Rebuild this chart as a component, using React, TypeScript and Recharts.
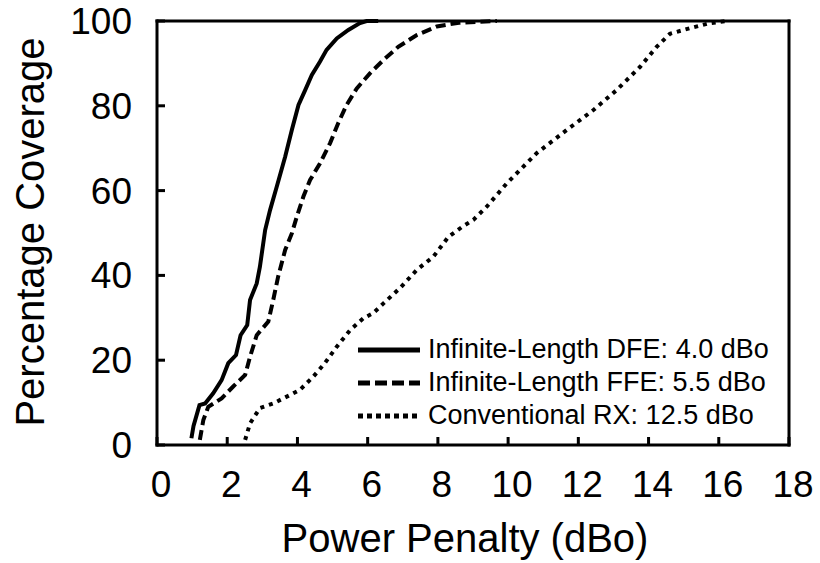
import React from 'react';
import { LineChart, Line, XAxis, YAxis } from 'recharts';

const xTicks = [0, 2, 4, 6, 8, 10, 12, 14, 16, 18];
const yTicks = [0, 20, 40, 60, 80, 100];

const dfeX = [0.98, 1.04, 1.21, 1.37, 1.6, 1.84, 2.03, 2.25, 2.38, 2.57, 2.65, 2.84, 2.93, 3.08, 3.22, 3.41, 3.65, 3.84, 4.03, 4.22, 4.41, 4.64, 4.83, 5.12, 5.45, 5.78, 5.97, 6.3];
const dfeY = [1.6, 4.5, 9.4, 9.8, 12.2, 15.3, 19.3, 21.2, 25.9, 28.3, 34.2, 38.1, 42, 50.7, 55.4, 60.9, 68, 74.3, 80.2, 83.7, 87.3, 90.4, 93.2, 95.9, 97.9, 99.5, 100, 100];

const ffeX = [1.22, 1.32, 1.46, 1.84, 2.17, 2.51, 2.65, 2.84, 3.17, 3.31, 3.45, 3.65, 3.84, 3.98, 4.17, 4.36, 4.64, 4.93, 5.16, 5.4, 5.69, 6.07, 6.45, 6.87, 7.4, 7.97, 8.6, 9.68];
const ffeY = [1.2, 5.9, 9.0, 11.0, 13.8, 16.5, 20.8, 25.9, 29.1, 34.2, 39.7, 46, 49.9, 53.8, 58.6, 62.5, 66.4, 71.2, 75.9, 80.2, 84.1, 87.7, 90.8, 93.9, 96.7, 98.7, 99.6, 100];

const convX = [2.51, 2.65, 2.93, 3.31, 3.79, 4.07, 4.45, 4.78, 5.12, 5.5, 5.88, 6.16, 6.45, 6.92, 7.4, 7.87, 8.3, 8.7, 9.01, 9.39, 9.96, 10.81, 11.67, 12.43, 13.09, 13.76, 14.23, 14.61, 15.18, 15.75, 16.22];
const convY = [1.2, 5.1, 8.7, 9.8, 11.8, 13, 16.1, 19.3, 23.2, 27.1, 29.9, 31.1, 33.4, 37, 41.3, 44.4, 49.1, 51.5, 53.1, 56.2, 61.7, 68.8, 74.3, 79, 83.7, 89.2, 93.9, 97, 98.3, 99.5, 100];

const seriesNames = ['Infinite-Length DFE: 4.0 dBo', 'Infinite-Length FFE: 5.5 dBo', 'Conventional RX: 12.5 dBo'];
const xLabel = 'Power Penalty (dBo)';
const yLabel = 'Percentage Coverage';

const zip = (xs: number[], ys: number[]) => xs.map((x, i) => ({ x, y: ys[i] }));
const dfeData = zip(dfeX, dfeY);
const ffeData = zip(ffeX, ffeY);
const convData = zip(convX, convY);

const FONT = '"Liberation Sans", Arial, Helvetica, sans-serif';
const TL = 8;
const TW = 3;
const DASH = '10 5';
const DOT = '4 5';
const dashes = [undefined, '12 5', '5 4'];

const axisLineStyle = { stroke: '#000', strokeWidth: 3, strokeLinecap: 'square' as const };

const BottomTick = (props: any) => {
  const { x, y, payload } = props;
  return (
    <g>
      <rect x={x - TW / 2} y={y - TL} width={TW} height={TL} fill="#000" />
      <text x={x + 4} y={y + 52} textAnchor="middle" fontFamily={FONT} fontSize={37} fill="#000">
        {payload.value}
      </text>
    </g>
  );
};
const TopTick = (props: any) => {
  const { x, y } = props;
  return <rect x={x - TW / 2} y={y} width={TW} height={TL} fill="#000" />;
};
const LeftTick = (props: any) => {
  const { x, y, payload } = props;
  return (
    <g>
      <rect x={x} y={y - TW / 2} width={TL} height={TW} fill="#000" />
      <text x={x - 25} y={y + 13} textAnchor="end" fontFamily={FONT} fontSize={37} fill="#000">
        {payload.value}
      </text>
    </g>
  );
};
const RightTick = (props: any) => {
  const { x, y } = props;
  return <rect x={x - TL} y={y - TW / 2} width={TL} height={TW} fill="#000" />;
};

export default function App() {
  return (
    <div style={{ position: 'absolute', left: 0, top: 0, width: 820, height: 563, background: '#fff' }}>
      <LineChart width={820} height={563} margin={{ top: 20, right: 30, bottom: 117, left: 156 }}>
        <XAxis xAxisId="b" dataKey="x" type="number" domain={[0, 18]} ticks={xTicks} height={1}
          tickSize={0} tickMargin={0} tickLine={false} axisLine={axisLineStyle} tick={<BottomTick />} interval={0} />
        <XAxis xAxisId="t" orientation="top" dataKey="x" type="number" domain={[0, 18]} ticks={xTicks} height={1}
          tickSize={0} tickMargin={0} tickLine={false} axisLine={axisLineStyle} tick={<TopTick />} interval={0} />
        <YAxis yAxisId="l" type="number" domain={[0, 100]} ticks={yTicks} width={1}
          tickSize={0} tickMargin={0} tickLine={false} axisLine={axisLineStyle} tick={<LeftTick />} interval={0} />
        <YAxis yAxisId="r" orientation="right" type="number" domain={[0, 100]} ticks={yTicks} width={1}
          tickSize={0} tickMargin={0} tickLine={false} axisLine={axisLineStyle} tick={<RightTick />} interval={0} />
        <Line xAxisId="b" yAxisId="l" data={dfeData} dataKey="y" stroke="#000" strokeWidth={4} dot={false}
          isAnimationActive={false} type="linear" name={seriesNames[0]} />
        <Line xAxisId="b" yAxisId="l" data={ffeData} dataKey="y" stroke="#000" strokeWidth={4} dot={false}
          strokeDasharray={DASH} isAnimationActive={false} type="linear" name={seriesNames[1]} />
        <Line xAxisId="b" yAxisId="l" data={convData} dataKey="y" stroke="#000" strokeWidth={4} dot={false}
          strokeDasharray={DOT} isAnimationActive={false} type="linear" name={seriesNames[2]} />
        <g>
          {seriesNames.map((name, i) => {
            const base = 358 + i * 33;
            return (
              <g key={name}>
                <line x1={358} x2={420} y1={base - 8} y2={base - 8} stroke="#000" strokeWidth={5} strokeDasharray={dashes[i]} />
                <text x={428} y={base} fontFamily={FONT} fontSize={27} fill="#000">{name}</text>
              </g>
            );
          })}
        </g>
        <text x={465} y={552} textAnchor="middle" fontFamily={FONT} fontSize={40} fill="#000">{xLabel}</text>
        <text x={44} y={232} textAnchor="middle" fontFamily={FONT} fontSize={40} fill="#000" transform="rotate(-90 44 232)">{yLabel}</text>
      </LineChart>
    </div>
  );
}
